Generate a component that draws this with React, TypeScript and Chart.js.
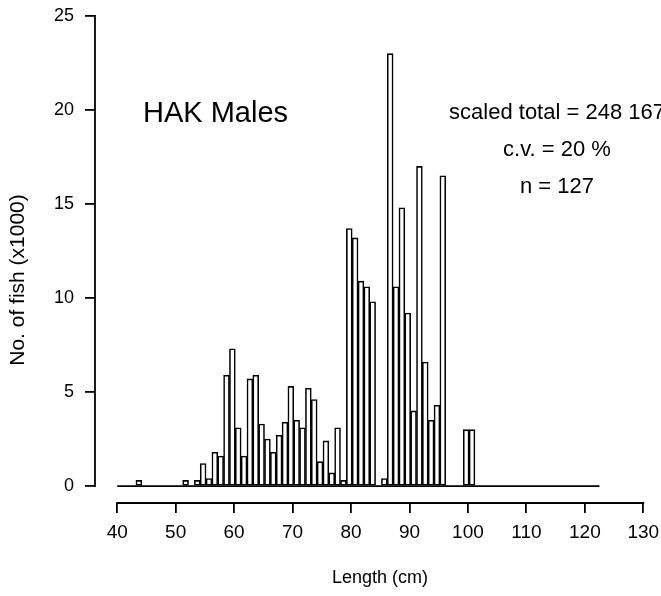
import { useEffect, useRef } from "react";
import { Chart, registerables } from "chart.js";

Chart.register(...registerables);

// Length classes (cm, 1-cm classes) and numbers of fish (x1000)
const lengthClasses = [
  43, 51, 53, 54, 55, 56, 57, 58, 59, 60,
  61, 62, 63, 64, 65, 66, 67, 68, 69, 70,
  71, 72, 73, 74, 75, 76, 77, 78,
  79, 80, 81, 82, 83,
  85, 86, 87, 88, 89, 90, 91, 92, 93, 94, 95,
  99, 100,
];
const fishCounts = [
  0.3, 0.3, 0.3, 1.2, 0.4, 1.8, 1.6, 5.9, 7.3, 3.1,
  1.6, 5.7, 5.9, 3.3, 2.5, 1.8, 2.7, 3.4, 5.3, 3.5,
  3.1, 5.2, 4.6, 1.3, 2.4, 0.7, 3.1, 0.3,
  13.7, 13.2, 10.9, 10.6, 9.8,
  0.4, 23.0, 10.6, 14.8, 9.2, 4.0, 17.0, 6.6, 3.5, 4.3, 16.5,
  3.0, 3.0,
];
const histogramRange = [40, 122.5];

const xTicks = [40, 50, 60, 70, 80, 90, 100, 110, 120, 130];
const yTicks = [0, 5, 10, 15, 20, 25];

const titleText = "HAK Males";
const statsLines = ["scaled total = 248 167", "c.v. = 20 %", "n = 127"];
const xTitle = "Length (cm)";
const yTitle = "No. of fish (x1000)";

const BAR_CENTER = 0.7; // bar centre within its 1-cm class
const FONT = '"Liberation Sans", Arial, Helvetica, sans-serif';

const rAxesPlugin = {
  id: "rAxes",
  afterDraw(chart: any) {
    const { ctx, chartArea } = chart;
    const x = chart.scales.x;
    const y = chart.scales.y;
    ctx.save();
    ctx.strokeStyle = "#000";
    ctx.lineWidth = 1.8;
    ctx.lineCap = "square";
    // detached x axis line (first to last tick)
    ctx.beginPath();
    ctx.moveTo(x.getPixelForValue(xTicks[0]), chartArea.bottom);
    ctx.lineTo(x.getPixelForValue(xTicks[xTicks.length - 1]), chartArea.bottom);
    ctx.stroke();
    // y axis line (first to last tick)
    ctx.beginPath();
    ctx.moveTo(chartArea.left, y.getPixelForValue(yTicks[0]));
    ctx.lineTo(chartArea.left, y.getPixelForValue(yTicks[yTicks.length - 1]));
    ctx.stroke();

    ctx.fillStyle = "#000";
    ctx.textBaseline = "middle";
    ctx.textAlign = "left";
    ctx.font = `29px ${FONT}`;
    ctx.fillText(titleText, 143, 114);

    ctx.textAlign = "center";
    ctx.font = `22px ${FONT}`;
    statsLines.forEach((s, i) => ctx.fillText(s, 557, 112.5 + i * 37));

    ctx.font = `18px ${FONT}`;
    ctx.fillText(xTitle, 380, 578);

    ctx.translate(18, 280);
    ctx.rotate(-Math.PI / 2);
    ctx.font = `21px ${FONT}`;
    ctx.fillText(yTitle, 0, 0);
    ctx.restore();
  },
};

export default function App() {
  const canvasRef = useRef<HTMLCanvasElement | null>(null);

  useEffect(() => {
    const canvas = canvasRef.current;
    if (!canvas) return;
    const chart = new Chart(canvas, {
      data: {
        datasets: [
          {
            type: "bar",
            data: lengthClasses.map((l, i) => ({ x: l + BAR_CENTER, y: fishCounts[i] })),
            backgroundColor: "#ffffff",
            borderColor: "#000000",
            borderWidth: 1.6,
            borderSkipped: false,
            barPercentage: 1,
            categoryPercentage: 1,
            order: 2,
          } as any,
          {
            type: "line",
            data: histogramRange.map((v) => ({ x: v, y: 0 })),
            borderColor: "#000000",
            borderWidth: 1.8,
            pointRadius: 0,
            order: 1,
          } as any,
        ],
      },
      options: {
        responsive: false,
        animation: false,
        devicePixelRatio: 1,
        layout: { padding: { top: 16, right: 17.7, left: 0, bottom: 0 } },
        plugins: {
          legend: { display: false },
          tooltip: { enabled: false },
          title: { display: false },
        },
        scales: {
          x: {
            type: "linear",
            offset: false,
            min: 36.2,
            max: 130,
            afterBuildTicks: (a: any) => {
              a.ticks = xTicks.map((v) => ({ value: v }));
            },
            afterFit: (a: any) => {
              a.height = 93;
              a.paddingLeft = 0;
              a.paddingRight = 0;
            },
            grid: {
              offset: false,
              drawOnChartArea: false,
              drawTicks: true,
              tickLength: 10,
              color: "#000",
              lineWidth: 1.8,
            },
            border: { display: false },
            ticks: {
              color: "#000",
              font: { family: FONT, size: 19 },
              padding: 8,
              maxRotation: 0,
              autoSkip: false,
            },
          },
          y: {
            type: "linear",
            min: -0.9,
            max: 25,
            afterBuildTicks: (a: any) => {
              a.ticks = yTicks.map((v) => ({ value: v }));
            },
            afterFit: (a: any) => {
              a.width = 95;
              a.paddingTop = 0;
              a.paddingBottom = 0;
            },
            grid: {
              drawOnChartArea: false,
              drawTicks: true,
              tickLength: 10,
              color: "#000",
              lineWidth: 1.8,
            },
            border: { display: false },
            ticks: {
              color: "#000",
              font: { family: FONT, size: 18 },
              padding: 11,
              autoSkip: false,
            },
          },
        },
      } as any,
      plugins: [rAxesPlugin],
    });
    return () => chart.destroy();
  }, []);

  return (
    <div style={{ position: "absolute", left: 0, top: 0, width: 661, height: 596, background: "#fff" }}>
      <canvas ref={canvasRef} width={661} height={596} style={{ display: "block", width: 661, height: 596 }} />
    </div>
  );
}
